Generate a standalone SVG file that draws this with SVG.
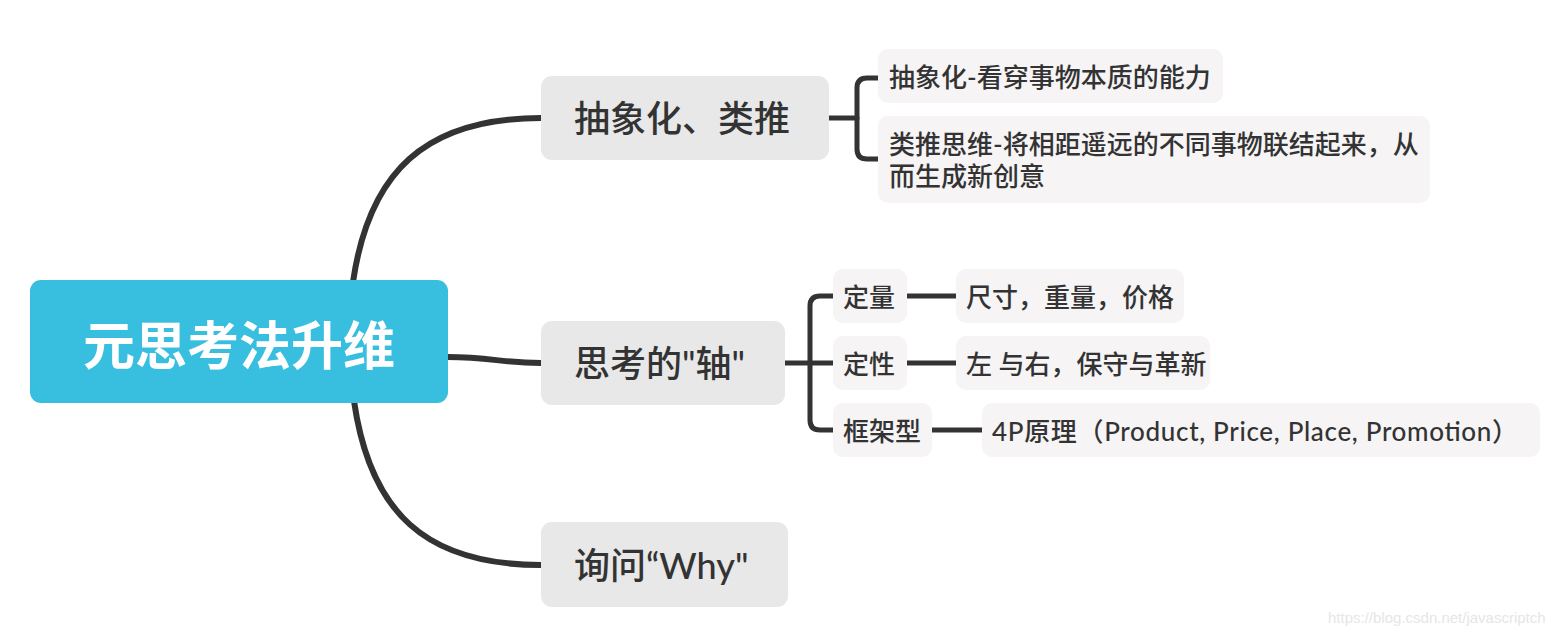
<svg xmlns="http://www.w3.org/2000/svg" width="1564" height="638" viewBox="0 0 1564 638">
<style>
  .conn { fill: none; stroke: #333333; stroke-linecap: round; stroke-linejoin: round; }
  .main { stroke-width: 6; }
  .sub { stroke-width: 5; }
  .t { font-family: Lato, "Noto Sans CJK SC", "Noto Sans", sans-serif; fill: #333333; }
  .l1box { fill: #E8E8E8; }
  .l2box { fill: #F6F4F5; }
  .l1 { font-size: 36px; font-weight: 500; }
  .l2 { font-size: 26px; font-weight: 500; }
  .root-t { font-family: "Noto Sans CJK SC", sans-serif; font-size: 52px; font-weight: 700; fill: #FFFFFF; }
</style>
<rect x="0" y="0" width="1564" height="638" fill="#FFFFFF"/>
<g id="connectors">
  <path class="conn main" d="M353,282 C369,172 425,118 541,118"/>
  <path class="conn main" d="M447,357 C492,357 500,363 541,363"/>
  <path class="conn main" d="M354,401 C370,512 425,565 541,565"/>
  <path class="conn sub" d="M829,118 H857"/>
  <path class="conn sub" d="M878,78 H867 Q857,78 857,88 V149 Q857,159 867,159 H878"/>
  <path class="conn sub" d="M785,363 H833"/>
  <path class="conn sub" d="M833,296 H820 Q810,296 810,306 V420 Q810,430 820,430 H833"/>
  <path class="conn sub" d="M907,296 H956"/>
  <path class="conn sub" d="M907,363 H956"/>
  <path class="conn sub" d="M932,430 H982"/>
</g>
<g id="root">
  <rect x="30" y="280" width="418" height="123" rx="11" fill="#38BEDE"/>
  <text class="root-t" x="239" y="342" text-anchor="middle" dominant-baseline="central">元思考法升维</text>
</g>
<g id="n-abstract">
  <rect class="l1box" x="541" y="76" width="288" height="84" rx="11"/>
  <text class="t l1" x="574" y="118" dominant-baseline="central">抽象化、类推</text>
</g>
<g id="n-abstract-1">
  <rect class="l2box" x="878" y="49" width="345" height="54" rx="10"/>
  <text class="t l2" x="889" y="77" dominant-baseline="central">抽象化-看穿事物本质的能力</text>
</g>
<g id="n-abstract-2">
  <rect class="l2box" x="878" y="116" width="552" height="87" rx="10"/>
  <text class="t l2" x="889" y="144" dominant-baseline="central">类推思维-将相距遥远的不同事物联结起来，从</text>
  <text class="t l2" x="889" y="176" dominant-baseline="central">而生成新创意</text>
</g>
<g id="n-axis">
  <rect class="l1box" x="541" y="321" width="244" height="84" rx="11"/>
  <text class="t l1" x="574" y="363" dominant-baseline="central">思考的"轴"</text>
</g>
<g id="n-quant">
  <rect class="l2box" x="833" y="269" width="74" height="54" rx="10"/>
  <text class="t l2" x="843" y="297" dominant-baseline="central">定量</text>
</g>
<g id="n-quant-1">
  <rect class="l2box" x="956" y="269" width="228" height="54" rx="10"/>
  <text class="t l2" x="966" y="297" dominant-baseline="central">尺寸，重量，价格</text>
</g>
<g id="n-qual">
  <rect class="l2box" x="833" y="336" width="74" height="54" rx="10"/>
  <text class="t l2" x="843" y="364" dominant-baseline="central">定性</text>
</g>
<g id="n-qual-1">
  <rect class="l2box" x="956" y="336" width="254" height="54" rx="10"/>
  <text class="t l2" x="966" y="364" dominant-baseline="central">左 与右，保守与革新</text>
</g>
<g id="n-frame">
  <rect class="l2box" x="833" y="403" width="99" height="54" rx="10"/>
  <text class="t l2" x="843" y="431" dominant-baseline="central">框架型</text>
</g>
<g id="n-frame-1">
  <rect class="l2box" x="982" y="403" width="558" height="54" rx="10"/>
  <text class="t l2" x="992" y="431" dominant-baseline="central" textLength="526" lengthAdjust="spacing">4P原理（Product, Price, Place, Promotion）</text>
</g>
<g id="n-why">
  <rect class="l1box" x="541" y="522" width="247" height="85" rx="11"/>
  <text class="t l1" x="574" y="565" dominant-baseline="central">询问“Why"</text>
</g>
<text x="1328" y="623" font-family="Liberation Sans, Arial, sans-serif" font-size="15" fill="#E6E6E6">https://blog.csdn.net/javascriptch</text>
</svg>
